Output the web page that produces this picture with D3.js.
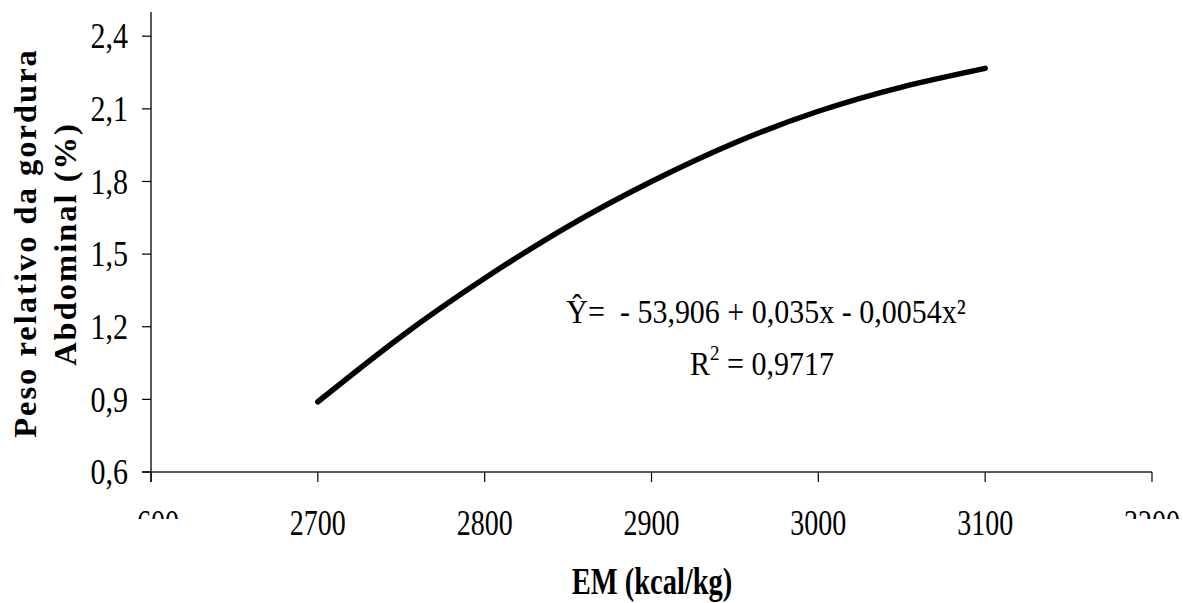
<!DOCTYPE html>
<html><head><meta charset="utf-8">
<script src="https://cdn.jsdelivr.net/npm/d3@7"></script>
<style>body{margin:0;background:#fff} text{font-family:"Liberation Serif","Times New Roman",serif;fill:#000}</style>
</head><body>
<svg id="c" width="1183" height="603"></svg>
<script>
// Data
const energy = [2700, 2750, 2800, 2850, 2900, 2950, 3000, 3050, 3100];
const fat    = [0.89, 1.16, 1.40, 1.615, 1.80, 1.96, 2.09, 2.19, 2.267];
const xTicks = [2600, 2700, 2800, 2900, 3000, 3100, 3200];
const yTicks = [0.6, 0.9, 1.2, 1.5, 1.8, 2.1, 2.4];
const xTitle = "EM (kcal/kg)";
const yTitle = ["Peso relativo da gordura", "Abdominal (%)"];
const eqLine1 = "Ŷ=  - 53,906 + 0,035x - 0,0054x²";
const eqR = ["R", "2", " = 0,9717"];

const svg = d3.select("#c");
const x = d3.scaleLinear().domain([2600, 3200]).range([151, 1152]);
const y = d3.scaleLinear().domain([0.6, 2.5]).range([472, 12]);
const fmtY = v => d3.format(".1f")(v).replace(".", ",");

// axes lines
svg.append("line").attr("x1", x(2600)).attr("x2", x(2600)).attr("y1", y(2.5)).attr("y2", y(0.6) + 10)
  .attr("stroke", "#000").attr("stroke-width", 1.3);
svg.append("line").attr("x1", x(2600) - 9).attr("x2", x(3200)).attr("y1", y(0.6)).attr("y2", y(0.6))
  .attr("stroke", "#222").attr("stroke-width", 1.5);

// y ticks
const yg = svg.append("g");
yTicks.forEach(v => {
  yg.append("line").attr("x1", x(2600) - 9).attr("x2", x(2600)).attr("y1", y(v)).attr("y2", y(v))
    .attr("stroke", "#000").attr("stroke-width", 1.2);
  yg.append("text").attr("transform", `translate(128,${y(v)}) scale(1,1.2)`)
    .attr("text-anchor", "end").attr("dy", "0.34em").attr("font-size", 30).text(fmtY(v));
});

// x ticks
svg.append("defs").append("clipPath").attr("id", "edgeclip")
  .append("rect").attr("x", 138).attr("y", 0).attr("width", 1100).attr("height", 519);
const xg = svg.append("g");
xTicks.forEach(v => {
  xg.append("line").attr("x1", x(v)).attr("x2", x(v)).attr("y1", y(0.6)).attr("y2", y(0.6) + 10)
    .attr("stroke", "#000").attr("stroke-width", 1.2);
  const t = xg.append("text").attr("transform", `translate(${x(v)},535) scale(1,1.3)`)
    .attr("text-anchor", "middle").attr("font-size", 28).text(v);
  if (v === xTicks[0] || v === xTicks[xTicks.length - 1]) {
    const wrap = xg.append("g").attr("clip-path", "url(#edgeclip)");
    wrap.node().appendChild(t.node());
  }
});

// curve
const pts = energy.map((e, i) => [e, fat[i]]);
svg.append("path").datum(pts)
  .attr("d", d3.line().x(d => x(d[0])).y(d => y(d[1])).curve(d3.curveNatural))
  .attr("fill", "none").attr("stroke", "#000").attr("stroke-width", 5.5)
  .attr("stroke-linecap", "round").attr("stroke-linejoin", "round");

// equation
svg.append("text").attr("transform", "translate(766,323) scale(1,1.15)")
  .attr("text-anchor", "middle").attr("font-size", 30).style("white-space", "pre").text(eqLine1);
const r2 = svg.append("text").attr("transform", "translate(762,375) scale(1,1.15)")
  .attr("text-anchor", "middle").attr("font-size", 30).style("white-space", "pre");
r2.append("tspan").text(eqR[0]);
r2.append("tspan").attr("font-size", 19).attr("dy", -13).text(eqR[1]);
r2.append("tspan").attr("dy", 13).text(eqR[2]);

// axis titles
svg.append("text").attr("transform", "translate(652,594) scale(1,1.3)")
  .attr("text-anchor", "middle").attr("font-size", 28.5).attr("font-weight", "bold").text(xTitle);
svg.append("text").attr("transform", "translate(36,243) rotate(-90) scale(1.05,1)")
  .attr("text-anchor", "middle").attr("font-size", 31).attr("letter-spacing", 1.9)
  .attr("font-weight", "bold").text(yTitle[0]);
svg.append("text").attr("transform", "translate(76,244) rotate(-90) scale(1.05,1)")
  .attr("text-anchor", "middle").attr("font-size", 31).attr("letter-spacing", 1.9)
  .attr("font-weight", "bold").text(yTitle[1]);
</script>
</body></html>
